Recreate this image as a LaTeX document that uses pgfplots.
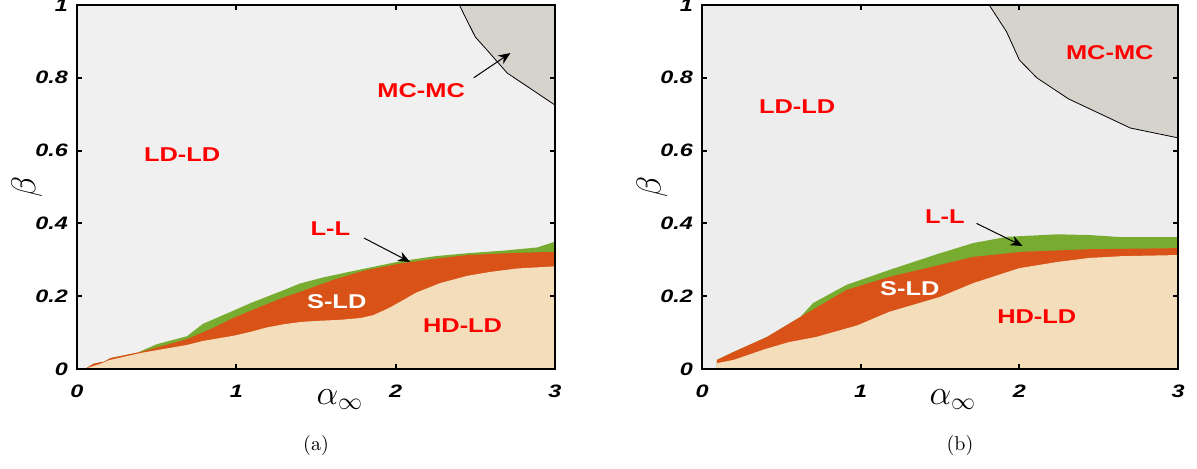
\documentclass[border=0pt]{standalone}
\usepackage{pgfplots}
\pgfplotsset{compat=1.18}
\usepackage{fontspec}
\newfontfamily\hel{Liberation Sans}
\usetikzlibrary{arrows.meta}
\definecolor{bgA}{HTML}{F0F0F0}
\definecolor{bgB}{HTML}{EDEDED}
\definecolor{mccol}{HTML}{D6D3CC}
\definecolor{llcol}{HTML}{77AC30}
\definecolor{slcol}{HTML}{D95319}
\definecolor{hdcol}{HTML}{F3DDBA}
\definecolor{lblred}{HTML}{FF0000}

\pgfplotstableread{
x y
0.05 0
0.10 0.008
0.14 0.013
0.20 0.024
0.40 0.044
0.69 0.066
0.79 0.077
0.98 0.091
1.09 0.102
1.19 0.114
1.30 0.123
1.40 0.129
1.50 0.132
1.65 0.135
1.78 0.140
1.86 0.148
1.96 0.168
2.05 0.190
2.13 0.210
2.28 0.236
2.45 0.256
2.60 0.267
2.76 0.276
3.00 0.282
}\hdA
\pgfplotstableread{
x y
0.05 0
0.08 0.008
0.10 0.014
0.14 0.018
0.17 0.020
0.21 0.030
0.40 0.047
0.69 0.082
0.85 0.112
0.98 0.140
1.09 0.160
1.19 0.178
1.30 0.197
1.40 0.212
1.61 0.245
1.80 0.270
2.03 0.290
2.25 0.303
2.45 0.313
2.70 0.318
3.00 0.322
}\slA
\pgfplotstableread{
x y
0.05 0
0.08 0.008
0.10 0.014
0.14 0.018
0.17 0.020
0.21 0.030
0.38 0.045
0.50 0.068
0.69 0.090
0.79 0.124
0.98 0.160
1.10 0.183
1.30 0.217
1.40 0.235
1.55 0.252
1.71 0.267
2.03 0.296
2.25 0.310
2.45 0.318
2.70 0.326
2.89 0.334
3.00 0.350
}\llA
\pgfplotstableread{
x y
2.40 1.000
2.43 0.973
2.50 0.912
2.59 0.868
2.70 0.813
2.84 0.772
3.00 0.725
3.00 1.000
}\mcA
\pgfplotstableread{
x y
0.094 0.016
0.20 0.025
0.40 0.055
0.55 0.074
0.72 0.088
0.98 0.120
1.18 0.157
1.50 0.198
1.71 0.236
2.00 0.277
2.24 0.294
2.44 0.305
2.65 0.310
3.00 0.313
}\hdB
\pgfplotstableread{
x y
0.094 0.025
0.20 0.047
0.41 0.088
0.62 0.143
0.91 0.217
1.18 0.253
1.50 0.286
1.71 0.308
2.02 0.322
2.44 0.329
3.00 0.332
}\slB
\pgfplotstableread{
x y
0.094 0.025
0.20 0.047
0.41 0.088
0.62 0.143
0.70 0.181
0.91 0.231
1.18 0.272
1.50 0.318
1.71 0.346
1.92 0.363
2.24 0.370
2.44 0.368
2.65 0.362
3.00 0.362
}\llB
\pgfplotstableread{
x y
1.81 1.000
1.92 0.926
2.00 0.849
2.11 0.800
2.31 0.742
2.70 0.662
3.00 0.635
3.00 1.000
}\mcB

\pgfplotsset{
  phase/.style={
    scale only axis, height=182pt,
    xmin=0, xmax=3, ymin=0, ymax=1,
    xtick={0,1,2,3}, xticklabels={0,1,2,3},
    ytick={0,0.2,0.4,0.6,0.8,1}, yticklabels={0,0.2,0.4,0.6,0.8,1},
    tick align=inside,
    major tick length=2.5pt,
    every tick/.style={black, line width=1pt},
    axis line style={line width=1pt, black},
    tick label style={font=\hel\bfseries\itshape\fontsize{9}{10}\selectfont, xscale=1.3},
    xticklabel style={yshift=-4.5pt},
    ylabel={$\beta$}, xlabel={$\alpha_\infty$},
    label style={font=\fontsize{17}{20}\selectfont},
    ylabel style={at={(axis description cs:-0.105,0.5)}, anchor=center},
    axis on top,
    clip=true,
  },
}
\tikzset{reg/.style={font=\hel\bfseries\fontsize{10}{12}\selectfont, xscale=1.27, text=lblred}}

\begin{document}
\begin{tikzpicture}
\useasboundingbox (-38.5pt,-50pt) rectangle (560pt,184.5pt);
\begin{axis}[phase, width=239pt, at={(0pt,0pt)}, anchor=south west,
  axis background/.style={fill=bgA},
  xlabel style={at={(axis description cs:0.55,-0.085)}, anchor=center}]
\addplot[fill=mccol, draw=black, line width=0.4pt] table {\mcA} -- cycle;
\addplot[fill=llcol, draw=none] table {\llA} \closedcycle;
\addplot[fill=slcol, draw=none] table {\slA} \closedcycle;
\addplot[fill=hdcol, draw=none] table {\hdA} \closedcycle;
\node[reg] at (axis cs:0.66,0.588) {LD-LD};
\node[reg] at (axis cs:2.16,0.766) {MC-MC};
\node[reg] at (axis cs:1.59,0.387) {L-L};
\node[reg, text=white] at (axis cs:1.63,0.184) {S-LD};
\node[reg] at (axis cs:2.42,0.118) {HD-LD};
\draw[-{Stealth[length=6pt,width=5pt]}, line width=0.5pt] (axis cs:1.80,0.36) -- (axis cs:2.09,0.294);
\draw[-{Stealth[length=6pt,width=5pt]}, line width=0.5pt] (axis cs:2.49,0.80) -- (axis cs:2.72,0.868);
\end{axis}
\begin{axis}[phase, width=238pt, at={(312.5pt,0pt)}, anchor=south west,
  axis background/.style={fill=bgB},
  xlabel style={at={(axis description cs:0.527,-0.085)}, anchor=center}]
\addplot[fill=mccol, draw=black, line width=0.4pt] table {\mcB} -- cycle;
\addplot[fill=llcol, draw=none] table {\llB} \closedcycle;
\addplot[fill=slcol, draw=none] table {\slB} \closedcycle;
\addplot[fill=hdcol, draw=none] table {\hdB} \closedcycle;
\node[reg] at (axis cs:0.60,0.72) {LD-LD};
\node[reg] at (axis cs:2.57,0.868) {MC-MC};
\node[reg] at (axis cs:1.53,0.418) {L-L};
\node[reg, text=white] at (axis cs:1.31,0.222) {S-LD};
\node[reg] at (axis cs:2.11,0.143) {HD-LD};
\draw[-{Stealth[length=6pt,width=5pt]}, line width=0.5pt] (axis cs:1.73,0.40) -- (axis cs:2.02,0.338);
\end{axis}
\node[font=\fontsize{10}{12}\selectfont] at (119.5pt,-38.5pt) {(a)};
\node[font=\fontsize{10}{12}\selectfont] at (441.5pt,-38.5pt) {(b)};
\end{tikzpicture}
\end{document}
